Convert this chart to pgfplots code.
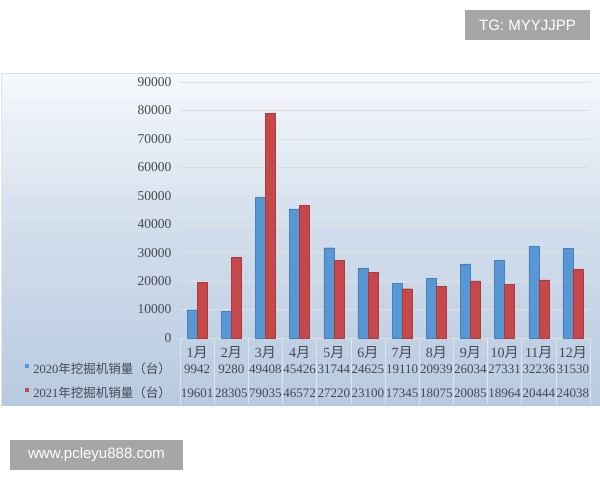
\documentclass[border=0pt]{standalone}
\usepackage{fontspec}
\setmainfont{Liberation Serif}
\newfontfamily\cjk{Noto Sans CJK SC}
\newfontfamily\wsans{Liberation Sans}
\usepackage{pgfplots}
\pgfplotsset{compat=1.18}
\definecolor{bblue}{HTML}{5797D3}
\definecolor{bred}{HTML}{C6484A}
\definecolor{bgtop}{HTML}{F5F8FC}
\definecolor{bgbot}{HTML}{B8CAE0}
\definecolor{txt}{HTML}{444951}
\definecolor{wm}{HTML}{A6A6A6}
\begin{document}
\begin{tikzpicture}[x=1pt,y=1pt]
\useasboundingbox (0,0) rectangle (600,480);
\fill[white] (0,0) rectangle (600,480);
% chart area
\shade[top color=bgtop, bottom color=bgbot, middle color=bgtop!40!bgbot] (1,75) rectangle (600,406);
\draw[color=black!13, line width=1pt] (1,406) -- (600,406);
\draw[color=black!10, line width=0.8pt] (1,75) -- (1,406);
% table separators
\foreach \i in {0,...,12} {
  \draw[white!50!bgbot, line width=0.5pt] ({180+\i*410/12},76) -- ({180+\i*410/12},142);
}
\draw[white!50!bgbot, line width=0.5pt] (180,142) -- (590,142);
\begin{axis}[
  at={(180pt,142pt)}, anchor=south west,
  scale only axis, width=410pt, height=256pt,
  xmin=-0.5, xmax=11.5, ymin=0, ymax=90000,
  ybar=0pt, bar width=10pt,
  axis line style={draw=none},
  tick style={draw=none},
  ytick={0,10000,...,90000},
  scaled y ticks=false,
  ymajorgrids, major grid style={color=black!12, line width=0.7pt},
  /pgf/number format/1000 sep={},
  /pgf/number format/assume math mode=true,
  yticklabel style={font=\fontsize{13.5}{15}\selectfont, text=txt, xshift=-5pt},
  xtick=data,
  xticklabels={{1{\cjk 月}},{2{\cjk 月}},{3{\cjk 月}},{4{\cjk 月}},{5{\cjk 月}},{6{\cjk 月}},{7{\cjk 月}},{8{\cjk 月}},{9{\cjk 月}},{10{\cjk 月}},{11{\cjk 月}},{12{\cjk 月}}},
  xticklabel style={font=\fontsize{14}{16}\selectfont, text=txt, yshift=-1pt},
  clip=false,
]
\addplot[fill=bblue, draw=bblue!85!black, line width=0.3pt] coordinates {
(0,9942) (1,9280) (2,49408) (3,45426) (4,31744) (5,24625) (6,19110) (7,20939) (8,26034) (9,27331) (10,32236) (11,31530)};
\addplot[fill=bred, draw=bred!85!black, line width=0.3pt] coordinates {
(0,19601) (1,28305) (2,79035) (3,46572) (4,27220) (5,23100) (6,17345) (7,18075) (8,20085) (9,18964) (10,20444) (11,24038)};
\end{axis}
% data table rows
\foreach \v [count=\i from 0] in {9942,9280,49408,45426,31744,24625,19110,20939,26034,27331,32236,31530} {
  \node[font=\fontsize{13}{14}\selectfont, text=txt, inner sep=0] at ({180+(\i+0.5)*410/12},111) {\v};
}
\foreach \v [count=\i from 0] in {19601,28305,79035,46572,27220,23100,17345,18075,20085,18964,20444,24038} {
  \node[font=\fontsize{13}{14}\selectfont, text=txt, inner sep=0] at ({180+(\i+0.5)*410/12},87) {\v};
}
\node[anchor=east, inner sep=0, font=\fontsize{12.5}{14}\selectfont, text=txt] at (171,111) {2020{\cjk 年挖掘机销量（台）}};
\node[anchor=east, inner sep=0, font=\fontsize{12.5}{14}\selectfont, text=txt] at (171,87) {2021{\cjk 年挖掘机销量（台）}};
\fill[bblue] (25,112) rectangle (29,116);
\fill[bred] (25,88) rectangle (29,92);
% watermarks
\fill[wm] (465,440) rectangle (590,470);
\node[text=white, font=\wsans\fontsize{15}{17}\selectfont] at (527.5,455) {TG: MYYJJPP};
\fill[wm] (10,10) rectangle (183,40);
\node[text=white, font=\wsans\fontsize{15}{17}\selectfont] at (96.5,25) {www.pcleyu888.com};
\end{tikzpicture}
\end{document}
